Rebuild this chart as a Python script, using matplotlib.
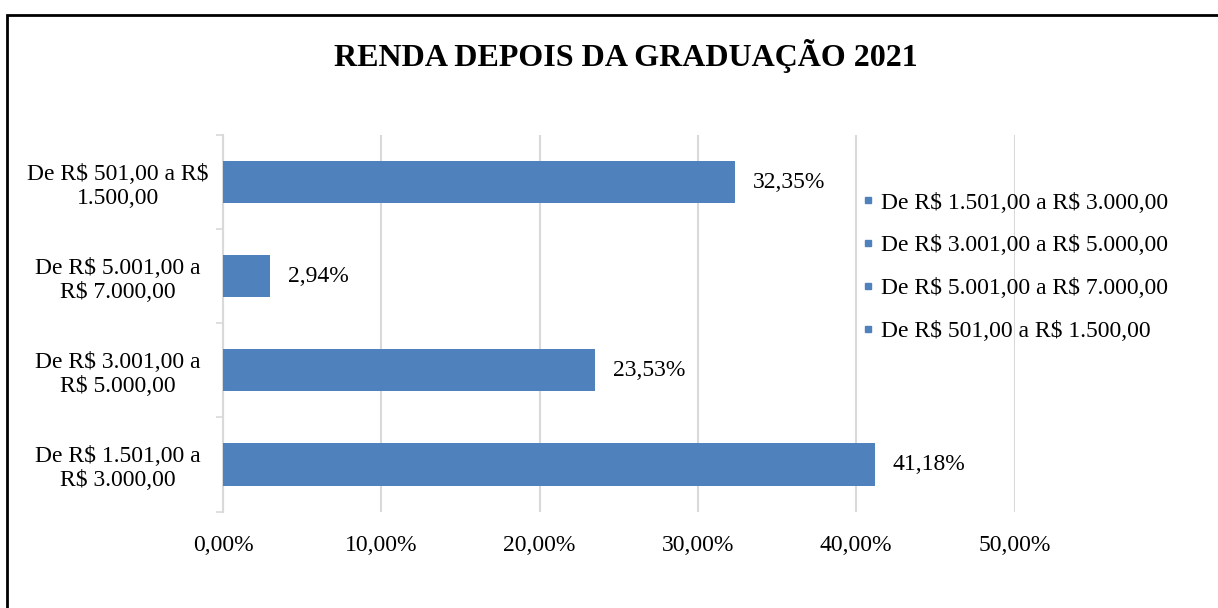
import matplotlib
matplotlib.use("Agg")
import matplotlib.pyplot as plt
from matplotlib.patches import Rectangle
from matplotlib.lines import Line2D

title = "RENDA DEPOIS DA GRADUAÇÃO 2021"
categories = ["De R$ 1.501,00 a\nR$ 3.000,00",
              "De R$ 3.001,00 a\nR$ 5.000,00",
              "De R$ 5.001,00 a\nR$ 7.000,00",
              "De R$ 501,00 a R$\n1.500,00"]
legend_labels = ["De R$ 1.501,00 a R$ 3.000,00",
                 "De R$ 3.001,00 a R$ 5.000,00",
                 "De R$ 5.001,00 a R$ 7.000,00",
                 "De R$ 501,00 a R$ 1.500,00"]
values = [41.18, 23.53, 2.94, 32.35]
value_labels = ["41,18%", "23,53%", "2,94%", "32,35%"]
xticks = [0, 10, 20, 30, 40, 50]
xticklabels = ["0,00%", "10,00%", "20,00%", "30,00%", "40,00%", "50,00%"]


def esc(s):
    return s.replace('$', r'\$')


plt.rcParams['font.family'] = ['Liberation Serif', 'DejaVu Serif']
BAR = "#4F81BD"
GRID = "#D9D9D9"
FS = 17

W, H = 1218, 608
fig = plt.figure(figsize=(W/100, H/100), dpi=100)
ax = fig.add_axes([223/W, 1-511.5/H, (1014.5-223)/W, (511.5-135)/H])

y = list(range(len(categories)))
ax.barh(y, values, height=0.45, color=BAR, zorder=3)
ax.set_xlim(0, 50)
ax.set_ylim(-0.5, len(categories)-0.5)
ax.set_xticks(xticks)
ax.set_xticklabels(xticklabels, fontsize=FS)
ax.set_yticks(y)
ax.set_yticklabels([esc(c) for c in categories], fontsize=FS, ha='center', linespacing=1.2)
ax.tick_params(axis='y', length=0, pad=75.6)
ax.tick_params(axis='x', length=0, pad=17)
ax.set_yticks([i - 0.5 for i in range(len(categories)+1)], minor=True)
ax.tick_params(axis='y', which='minor', length=5, color=GRID, width=1.2)
ax.grid(axis='x', color=GRID, linewidth=1.5, zorder=0)
for s in ['top', 'right', 'bottom']:
    ax.spines[s].set_visible(False)
ax.spines['left'].set_color(GRID)
ax.spines['left'].set_linewidth(1.5)

for yi, v, lab in zip(y, values, value_labels):
    ax.annotate(lab, (v, yi), xytext=(18, 0), textcoords='offset pixels',
                va='center', ha='left', fontsize=FS)

handles = [Line2D([], [], marker='s', linestyle='none', color=BAR, markersize=5) for _ in legend_labels]
fig.legend(handles, [esc(l) for l in legend_labels], loc='center left',
           bbox_to_anchor=(851/W, 1-267/H), borderaxespad=0,
           frameon=False, fontsize=FS, handletextpad=0.25, labelspacing=0.9, handlelength=0.6)

fig.text(626/W, 1-56/H, title, ha='center', va='center', fontsize=23, fontweight='bold')

fig.patches.append(Rectangle((7/W, -0.1), 1.5, 1.1-15/H, transform=fig.transFigure,
                             fill=False, edgecolor='black', linewidth=2))

fig.savefig("out.png", dpi=100)
